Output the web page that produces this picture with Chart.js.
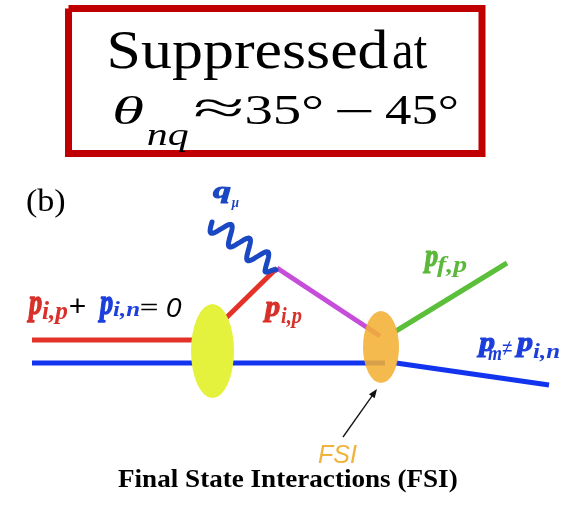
<!DOCTYPE html>
<html>
<head>
<meta charset="utf-8">
<script src="https://cdn.jsdelivr.net/npm/chart.js@4.4.0/dist/chart.umd.min.js"></script>
<style>
  html, body { margin: 0; padding: 0; background: #fff; }
  canvas { display: block; }
</style>
</head>
<body>
<canvas id="diagram" width="564" height="519"></canvas>
<script>
// particle lines, in diagram units (x right, y down, same frame as the picture)
const lineNames = ['p_i,p in', 'p_i,n in', 'p_i,p struck', 'p_i,p after photon', 'p_f,p', 'p_m'];
const lineX = [[32, 200], [32, 385], [225, 277], [277, 380], [396, 507], [396, 549]];
const lineY = [[340, 340], [363, 363], [319, 268], [268, 336], [331, 263], [363, 385]];

// red frame round the caption
const frameX = [68.5, 482, 482, 68.5, 68.5];
const frameY = [8.5, 8.5, 153.5, 153.5, 8.5];

// virtual photon q_mu, start and end
const photonX = [212, 276];
const photonY = [222, 270];

// blobs: nucleus vertex and FSI vertex
const blobNames = ['nucleus', 'FSI'];
const blobX = [212.5, 381];
const blobY = [351, 347];
const blobRx = [21.5, 18];
const blobRy = [47, 36];

// arrow pointing at the FSI blob
const arrowX = [343, 377];
const arrowY = [437, 389];

const lineColors = ['#e53228', '#1234ee', '#e53228', '#c64cda', '#5bbf3a', '#1234ee'];
const blobColors = ['#e4f23e', 'rgba(242, 176, 52, 0.88)'];

const RED = '#d8302a';
const BLUE = '#1c3fdc';
const GREEN = '#5bb83a';
const serif = '"Liberation Serif", "Times New Roman", serif';
const sans = '"Liberation Sans", Arial, sans-serif';
const pFont = `bold italic 28px ${serif}`;
const subFont = `bold italic 18px ${serif}`;

// text pieces: ink box x0..x1 and either baseline or ink top/bottom y0..y1
const texts = [
  { text: 'Suppressed', x0: 110, x1: 388, base: 68, font: `55px ${serif}`, color: '#000' },
  { text: 'at', x0: 393, x1: 427, base: 68, font: `55px ${serif}`, color: '#000' },
  { text: 'θ', x0: 115, x1: 143, y0: 95, y1: 124, font: `italic 42px ${serif}`, color: '#000' },
  { text: 'nq', x0: 148, x1: 188, y0: 130, y1: 152, font: `italic 33px ${serif}`, color: '#000' },
  { text: '≈', x0: 195, x1: 242, y0: 99, y1: 117, font: `46px ${serif}`, color: '#000' },
  { text: '35°', x0: 247, x1: 322, y0: 95, y1: 124, font: `44px ${serif}`, color: '#000' },
  { text: '−', x0: 337, x1: 372, y0: 110, y1: 113, font: `44px ${serif}`, color: '#000' },
  { text: '45°', x0: 385, x1: 457, y0: 95, y1: 124, font: `44px ${serif}`, color: '#000' },
  { text: '(b)', x0: 27, x1: 65, y0: 188, y1: 218, font: `32px ${serif}`, color: '#000' },
  { text: 'q', x0: 213, x1: 231, y0: 188, y1: 203, font: pFont, color: '#1a47c2', heavy: true },
  { text: 'μ', x0: 231, x1: 239, y0: 199, y1: 210, font: subFont, color: '#1a47c2' },
  { text: 'p', x0: 27, x1: 42, y0: 298, y1: 322, font: pFont, color: RED, heavy: true },
  { text: 'i,p', x0: 42, x1: 68, y0: 301, y1: 325, font: subFont, color: RED },
  { text: '+', x0: 70, x1: 85, y0: 298, y1: 313, font: `24px ${sans}`, color: '#000' },
  { text: 'p', x0: 98, x1: 113, y0: 298, y1: 322, font: pFont, color: BLUE, heavy: true },
  { text: 'i,n', x0: 113, x1: 140, y0: 301, y1: 320, font: subFont, color: BLUE },
  { text: '=', x0: 141, x1: 157, y0: 303, y1: 310, font: `24px ${sans}`, color: '#000' },
  { text: '0', x0: 167, x1: 182, y0: 298, y1: 317, font: `italic 26px ${sans}`, color: '#000' },
  { text: 'p', x0: 263, x1: 280, y0: 302, y1: 322, font: pFont, color: RED, heavy: true },
  { text: 'i,p', x0: 281, x1: 302, y0: 306, y1: 328, font: subFont, color: RED },
  { text: 'p', x0: 423, x1: 438, y0: 252, y1: 273, font: pFont, color: GREEN, heavy: true },
  { text: 'f,p', x0: 437, x1: 467, y0: 255, y1: 277, font: subFont, color: GREEN },
  { text: 'p', x0: 477, x1: 495, y0: 338, y1: 357, font: pFont, color: BLUE, heavy: true },
  { text: 'm', x0: 488, x1: 502, y0: 350, y1: 360, font: subFont, color: BLUE },
  { text: '≠', x0: 502, x1: 512, y0: 341, y1: 355, font: `22px ${sans}`, color: BLUE },
  { text: 'p', x0: 515, x1: 533, y0: 338, y1: 357, font: pFont, color: BLUE, heavy: true },
  { text: 'i,n', x0: 533, x1: 560, y0: 343, y1: 362, font: subFont, color: BLUE },
  { text: 'FSI', x0: 318, x1: 357, y0: 445, y1: 463, font: `italic 25px ${sans}`, color: '#f0b43c' },
  { text: 'Final State Interactions (FSI)', x0: 118, x1: 457, base: 487, font: `bold 26px ${serif}`, color: '#000' },
];

const toPoints = (xs, ys) => xs.map((x, i) => ({ x, y: ys[i] }));

const datasets = lineNames.map((name, i) => ({
  label: name,
  data: toPoints(lineX[i], lineY[i]),
  borderColor: lineColors[i],
  borderWidth: 5,
  borderCapStyle: 'butt',
}));
datasets.push({
  label: 'frame',
  data: toPoints(frameX, frameY),
  borderColor: '#c00000',
  borderWidth: 7,
  borderJoinStyle: 'miter',
});

const drawFit = (ctx, px, py, tk) => {
  ctx.font = tk.font;
  ctx.fillStyle = tk.color;
  ctx.strokeStyle = tk.color;
  ctx.textAlign = 'left';
  ctx.textBaseline = 'alphabetic';
  const m = ctx.measureText(tk.text);
  const ink = m.actualBoundingBoxLeft + m.actualBoundingBoxRight;
  const sx = (px(tk.x1) - px(tk.x0)) / ink;
  let tx = m.actualBoundingBoxLeft;
  let ty = 0;
  ctx.save();
  if (tk.y0 !== undefined) {
    const inkH = m.actualBoundingBoxAscent + m.actualBoundingBoxDescent;
    const sy = (py(tk.y1) - py(tk.y0)) / inkH;
    ctx.translate(px(tk.x0), py(tk.y0));
    ctx.scale(sx, sy);
    ty = m.actualBoundingBoxAscent;
  } else {
    ctx.translate(px(tk.x0), py(tk.base));
    ctx.scale(sx, 1);
  }
  ctx.fillText(tk.text, tx, ty);
  if (tk.heavy) {
    ctx.lineWidth = 1.1;
    ctx.lineJoin = 'round';
    ctx.strokeText(tk.text, tx, ty);
  }
  ctx.restore();
};

const diagramPlugin = {
  id: 'diagram',
  afterDatasetsDraw(chart) {
    const { ctx } = chart;
    const px = (v) => chart.scales.x.getPixelForValue(v);
    const py = (v) => chart.scales.y.getPixelForValue(v);

    // blobs over the lines
    blobNames.forEach((name, i) => {
      ctx.save();
      ctx.fillStyle = blobColors[i];
      ctx.beginPath();
      ctx.ellipse(px(blobX[i]), py(blobY[i]),
        Math.abs(px(blobX[i] + blobRx[i]) - px(blobX[i])),
        Math.abs(py(blobY[i] + blobRy[i]) - py(blobY[i])), 0, 0, Math.PI * 2);
      ctx.fill();
      ctx.restore();
    });

    // wavy photon line between its two ends
    const ax = px(photonX[0]); const ay = py(photonY[0]);
    const bx = px(photonX[1]); const by = py(photonY[1]);
    const len = Math.hypot(bx - ax, by - ay);
    const nx = -(by - ay) / len; const ny = (bx - ax) / len;
    ctx.save();
    ctx.strokeStyle = '#1a47c2';
    ctx.lineWidth = 5;
    ctx.lineCap = 'round';
    ctx.lineJoin = 'round';
    ctx.beginPath();
    for (let s = 0; s <= 160; s += 1) {
      const t = s / 160;
      const w = 9.5 * Math.sin(Math.PI * 2 * 3.5 * t) * Math.min(1, (1 - t) * 10);
      const x = ax + (bx - ax) * t + nx * w;
      const y = ay + (by - ay) * t + ny * w;
      if (s === 0) ctx.moveTo(x, y); else ctx.lineTo(x, y);
    }
    ctx.stroke();
    ctx.restore();

    // arrow to FSI blob
    const x0 = px(arrowX[0]); const y0 = py(arrowY[0]);
    const x1 = px(arrowX[1]); const y1 = py(arrowY[1]);
    const ang = Math.atan2(y1 - y0, x1 - x0);
    ctx.save();
    ctx.strokeStyle = '#111';
    ctx.fillStyle = '#111';
    ctx.lineWidth = 1.3;
    ctx.beginPath();
    ctx.moveTo(x0, y0);
    ctx.lineTo(x1 - Math.cos(ang) * 6, y1 - Math.sin(ang) * 6);
    ctx.stroke();
    ctx.beginPath();
    ctx.moveTo(x1, y1);
    ctx.lineTo(x1 - Math.cos(ang) * 9 + Math.sin(ang) * 3.5, y1 - Math.sin(ang) * 9 - Math.cos(ang) * 3.5);
    ctx.lineTo(x1 - Math.cos(ang) * 9 - Math.sin(ang) * 3.5, y1 - Math.sin(ang) * 9 + Math.cos(ang) * 3.5);
    ctx.closePath();
    ctx.fill();
    ctx.restore();

    texts.forEach((tk) => drawFit(ctx, px, py, tk));
  },
};

new Chart(document.getElementById('diagram'), {
  type: 'scatter',
  data: { datasets },
  options: {
    responsive: false,
    animation: false,
    events: [],
    showLine: true,
    elements: { point: { radius: 0 }, line: { tension: 0 } },
    layout: { padding: 0 },
    plugins: { legend: { display: false }, tooltip: { enabled: false } },
    scales: {
      x: { type: 'linear', min: 0, max: 564, display: false },
      y: { type: 'linear', min: 0, max: 519, reverse: true, display: false },
    },
  },
  plugins: [diagramPlugin],
});
</script>
</body>
</html>
